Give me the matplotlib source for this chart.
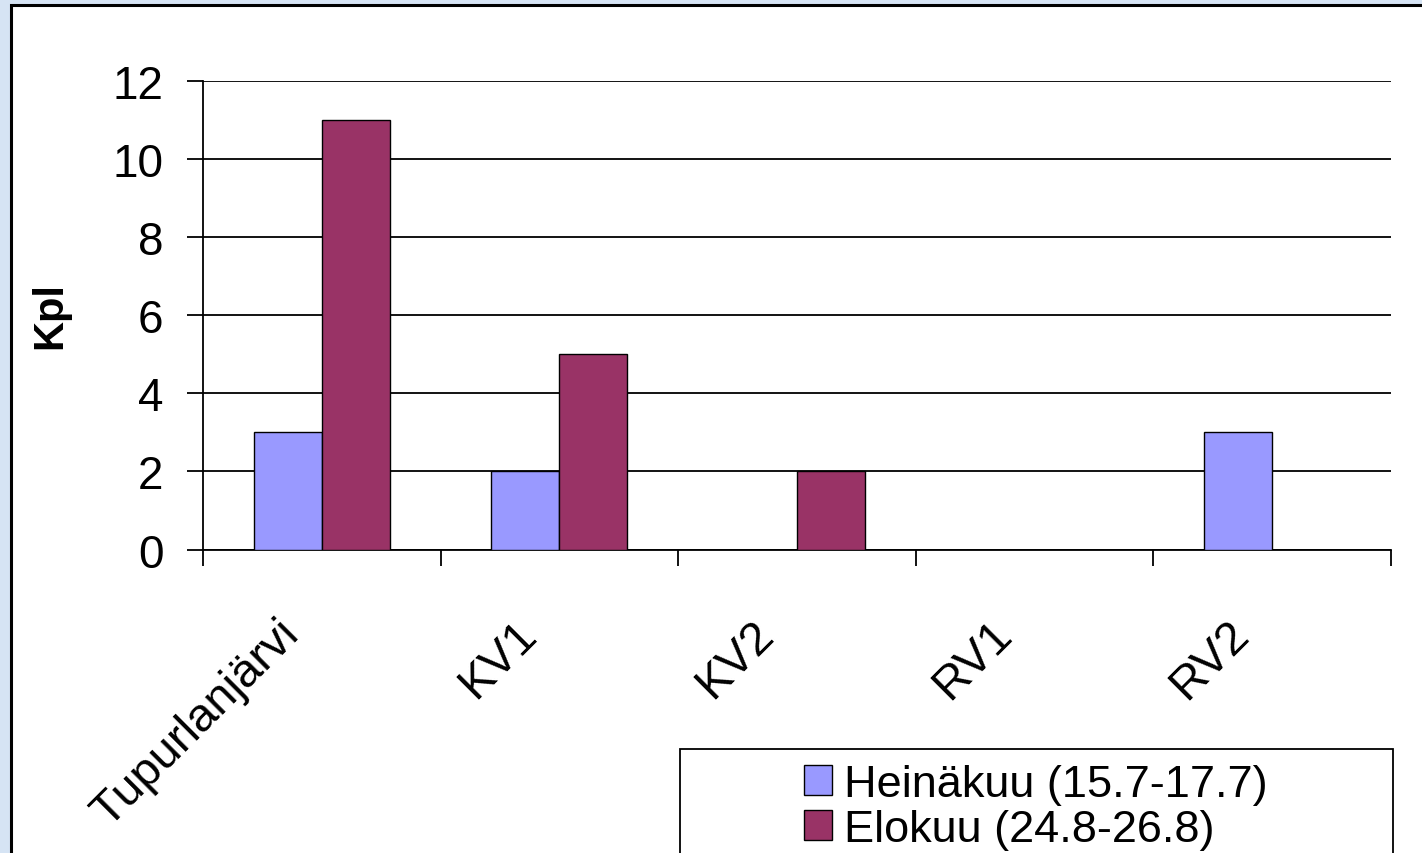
import matplotlib
matplotlib.use("Agg")
import matplotlib.pyplot as plt
import matplotlib.patches as mpatches
import matplotlib.transforms as mtransforms
import numpy as np

plt.rcParams['font.family'] = ['Liberation Sans', 'DejaVu Sans']

categories = ["Tupurlanjärvi", "KV1", "KV2", "RV1", "RV2"]
heinakuu = [3, 2, 0, 0, 3]
elokuu = [11, 5, 2, 0, 0]
series_labels = ["Heinäkuu (15.7-17.7)", "Elokuu (24.8-26.8)"]
yticks = [0, 2, 4, 6, 8, 10, 12]
ylabel = "Kpl"

W, H = 1422, 854
fig = plt.figure(figsize=(W / 100, H / 100), dpi=100)
fig.patch.set_facecolor('#d6e4f4')

# white chart area with black border
fig.patches.append(mpatches.Rectangle((10.5 / W, -0.1), 1.2, (H - 5.5) / H + 0.1,
                                      transform=fig.transFigure, facecolor='white',
                                      edgecolor='black', linewidth=2.2, zorder=-10))

ax = fig.add_axes([203 / W, 1 - 550.5 / H, (1391 - 203) / W, (550.5 - 82) / H])
ax.set_facecolor('none')

x = np.arange(len(categories))
bw = 0.286
b1 = ax.bar(x - bw / 2, heinakuu, bw, color='#9999FF', edgecolor='black', linewidth=1.0, zorder=3)
b2 = ax.bar(x + bw / 2, elokuu, bw, color='#993366', edgecolor='black', linewidth=1.0, zorder=3)

ax.set_xlim(-0.5, len(categories) - 0.5)
ax.set_ylim(0, 12)
ax.set_yticks(yticks)
ax.yaxis.grid(True, color='black', linewidth=1.3, zorder=1)
ax.set_axisbelow(True)
for s in ['top', 'right']:
    ax.spines[s].set_visible(False)
ax.spines['left'].set_linewidth(1.3)
ax.spines['bottom'].set_linewidth(1.3)

ax.tick_params(axis='y', length=11.5, width=1.3, pad=17, labelsize=33)
ax.set_xticks(x)
ax.set_xticklabels(categories, rotation=45, ha='right', va='center',
                   rotation_mode='anchor', fontsize=34)
ax.tick_params(axis='x', which='major', length=0, pad=56)
offset = mtransforms.ScaledTranslation(-30 / 100, 0, fig.dpi_scale_trans)
for lbl in ax.get_xticklabels():
    lbl.set_transform(lbl.get_transform() + offset)
ax.set_xticks(np.arange(-0.5, len(categories), 1.0), minor=True)
ax.tick_params(axis='x', which='minor', length=11.5, width=1.3)

fig.text(50 / W, 1 - 316 / H, ylabel, rotation=90, ha='center', va='center',
         fontsize=30, fontweight='bold')

# legend frame
fig.patches.append(mpatches.Rectangle((680 / W, -0.1), (1393 - 680) / W, (854 - 750) / H + 0.1,
                                      transform=fig.transFigure, facecolor='white',
                                      edgecolor='black', linewidth=1.3, zorder=1))
leg = fig.legend([b1, b2], series_labels, loc='upper left',
                 bbox_to_anchor=(804 / W, 1 - 765 / H), frameon=False, fontsize=32.5,
                 handlelength=0.63, handleheight=0.65, handletextpad=0.25,
                 labelspacing=0.08, borderpad=0, borderaxespad=0)

fig.savefig("out.png", dpi=100, facecolor=fig.get_facecolor())
